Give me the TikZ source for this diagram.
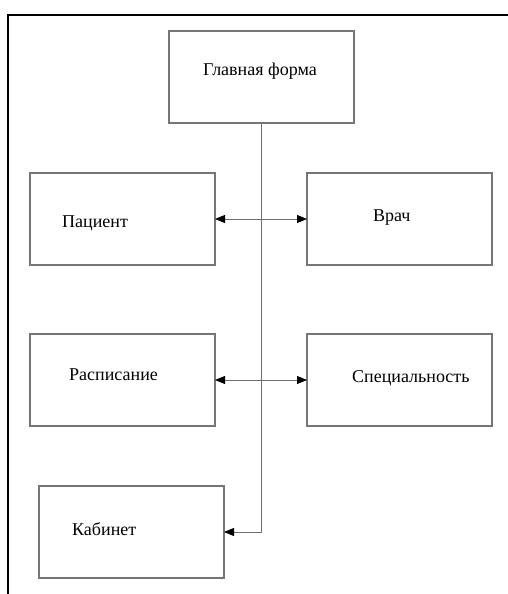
\documentclass[tikz,border=0pt]{standalone}
\usepackage{fontspec}
\setmainfont{Liberation Serif}
\usetikzlibrary{arrows.meta}
\definecolor{boxgray}{RGB}{118,118,118}
\definecolor{linegray}{RGB}{110,110,110}
\begin{document}
\begin{tikzpicture}[x=1pt,y=-1pt,
  box/.style={draw=boxgray,line width=1.2pt,minimum width=185pt,minimum height=92pt,inner sep=0pt,outer sep=0pt},
  lbl/.style={anchor=west,inner sep=0pt,font=\fontsize{18pt}{21pt}\selectfont},
  conn/.style={draw=linegray,line width=0.9pt},
  tip/.style={-{Triangle[length=10pt,width=8pt,color=black]}},
  twotip/.style={{Triangle[length=10pt,width=8pt,color=black]}-{Triangle[length=10pt,width=8pt,color=black]}},
  frameline/.style={draw=black,line width=1.8pt}]
\useasboundingbox (0,0) rectangle (508,594);
% frame
\coordinate (fbl) at (8,594);
\coordinate (ftl) at (8,15);
\coordinate (ftr) at (508,15);
\draw[frameline] (fbl) -- (ftl) -- (ftr);
% boxes
\node[box] (main) at (261.5,77) {};
\node[box] (pac) at (122.5,219) {};
\node[box] (vrach) at (399.5,219) {};
\node[box] (rasp) at (122.5,380) {};
\node[box] (spec) at (399.5,380) {};
\node[box] (kab) at (131.5,532) {};
% labels
\node[lbl] (tmain) at (203,71) {Главная форма};
\node[lbl] (tpac) at (62,223) {Пациент};
\node[lbl] (tvrach) at (373,218) {Врач};
\node[lbl] (trasp) at (69,375) {Расписание};
\node[lbl] (tspec) at (352,378) {Специальность};
\node[lbl] (tkab) at (72,529) {Кабинет};
% connectors
\coordinate (bend) at (main.south |- kab.east);
\draw[conn,tip] (main.south) -- (bend) -- (kab.east);
\draw[conn,twotip] (pac.east) -- (vrach.west);
\draw[conn,twotip] (rasp.east) -- (spec.west);
\end{tikzpicture}
\end{document}
